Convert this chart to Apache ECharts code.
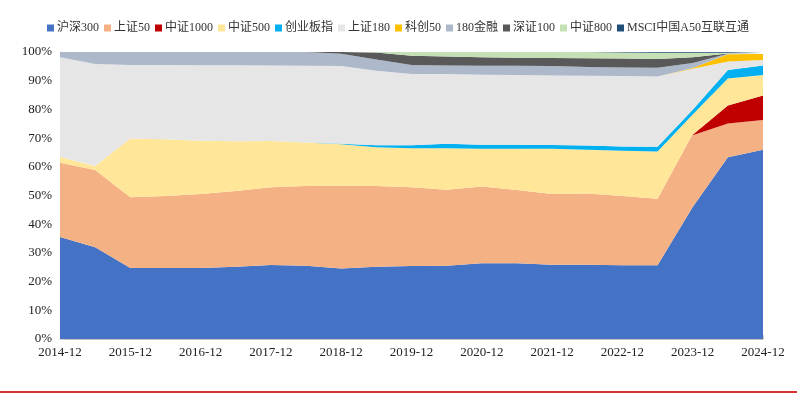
<!DOCTYPE html>
<html><head><meta charset="utf-8">
<script src="https://cdn.jsdelivr.net/npm/echarts@6/dist/echarts.min.js"></script>
<style>html,body{margin:0;padding:0;background:#fff}#c{width:797px;height:395px}</style>
</head><body><div id="c"></div>
<script>
const categories = ["2014-12","2015-06","2015-12","2016-06","2016-12","2017-06","2017-12","2018-06","2018-12","2019-06","2019-12","2020-06","2020-12","2021-06","2021-12","2022-06","2022-12","2023-06","2023-12","2024-06","2024-12"];
const seriesNames = ["沪深300","上证50","中证1000","中证500","创业板指","上证180","科创50","180金融","深证100","中证800","MSCI中国A50互联互通"];
const hs300   = [35.5,32.0,24.7,24.7,24.7,25.2,25.8,25.5,24.6,25.2,25.4,25.5,26.4,26.4,25.9,25.9,25.7,25.7,46.0,63.3,65.9];
const sz50    = [25.9,26.9,24.7,25.1,25.8,26.4,27.1,27.8,28.8,28.1,27.5,26.5,26.7,25.5,24.6,24.8,24.1,23.2,25.0,11.8,10.4];
const zz1000  = [0,0,0,0,0,0,0,0,0,0,0,0,0,0,0,0,0,0,0.2,6.3,8.5];
const zz500   = [2.0,1.4,20.5,19.8,18.6,17.3,16.1,15.2,14.5,13.5,13.6,14.5,13.2,14.4,15.8,15.25,15.8,16.4,7.0,9.4,7.2];
const cyb     = [0,0,0,0,0,0,0,0,0.1,0.7,1.0,1.5,1.4,1.4,1.3,1.45,1.5,1.7,1.7,2.9,3.3];
const sz180   = [34.8,35.5,25.6,25.9,26.3,26.5,26.3,26.7,27.1,26.0,24.8,24.3,24.4,24.3,24.2,24.3,24.5,24.5,14.3,3.0,1.9];
const kc50    = [0,0,0,0,0,0,0,0,0,0,0,0,0,0,0,0,0,0,0.2,2.5,2.1];
const jr180   = [1.8,4.2,4.5,4.5,4.6,4.6,4.7,4.8,4.3,3.9,3.2,3.0,3.1,3.2,3.3,3.1,3.0,3.0,1.8,0.2,0.1];
const szs100  = [0,0,0,0,0,0,0,0,0.6,2.4,3.2,3.1,3.0,2.8,2.8,3.0,3.1,3.1,2.0,0.1,0.1];
const zz800   = [0,0,0,0,0,0,0,0,0,0.2,1.3,1.6,1.8,2.0,2.1,2.2,2.1,2.1,1.5,0.2,0.2];
const msciA50 = [0,0,0,0,0,0,0,0,0,0,0,0,0,0,0,0,0.2,0.3,0.3,0.3,0.3];
const yTicks  = [0,10,20,30,40,50,60,70,80,90,100];

const colors = ["#4472C4","#F4B183","#C00000","#FFE699","#00B0F0","#E7E6E6","#FFC000","#ADB9CA","#595959","#C5E0B4","#1F4E79"];
const dataList = [hs300,sz50,zz1000,zz500,cyb,sz180,kc50,jr180,szs100,zz800,msciA50];
const font = "'Liberation Serif','Noto Sans CJK SC',serif";

const chart = echarts.init(document.getElementById('c'), null, {renderer:'canvas'});
chart.setOption({
  animation:false,
  color: colors,
  legend:{
    top:17, left:42, width:770, itemWidth:7, itemHeight:7, itemGap:5, icon:'rect',
    textStyle:{fontFamily:font, fontSize:12, color:'#333', padding:[0,0,0,-2]},
    data: seriesNames
  },
  grid:{left:60, right:34, top:52, bottom:56},
  xAxis:{
    type:'category', data:categories, boundaryGap:false,
    axisLine:{lineStyle:{color:'#BFBFBF'}},
    axisTick:{inside:true, length:4, interval:0, lineStyle:{color:'#D0D0D0'}},
    axisLabel:{interval:1, fontFamily:font, fontSize:13, color:'#222', margin:7}
  },
  yAxis:{
    type:'value', min:0, max:100, interval:10,
    axisLine:{show:true, lineStyle:{color:'#BFBFBF'}},
    axisTick:{show:true, inside:true, length:4, lineStyle:{color:'#D0D0D0'}},
    splitLine:{show:false},
    axisLabel:{fontFamily:font, fontSize:13, color:'#222', margin:8, formatter: v => yTicks.includes(v) ? v + '%' : ''}
  },
  series: seriesNames.map((n,i)=>({
    name:n, type:'line', stack:'total', data:dataList[i],
    showSymbol:false, symbol:'none',
    lineStyle:{width:0},
    areaStyle:{color:colors[i], opacity:1},
    itemStyle:{color:colors[i]},
    z: 2
  })),
  graphic:[{type:'rect', left:0, top:391, shape:{width:797, height:2}, style:{fill:'#D8342F'}, silent:true}]
});
</script></body></html>
